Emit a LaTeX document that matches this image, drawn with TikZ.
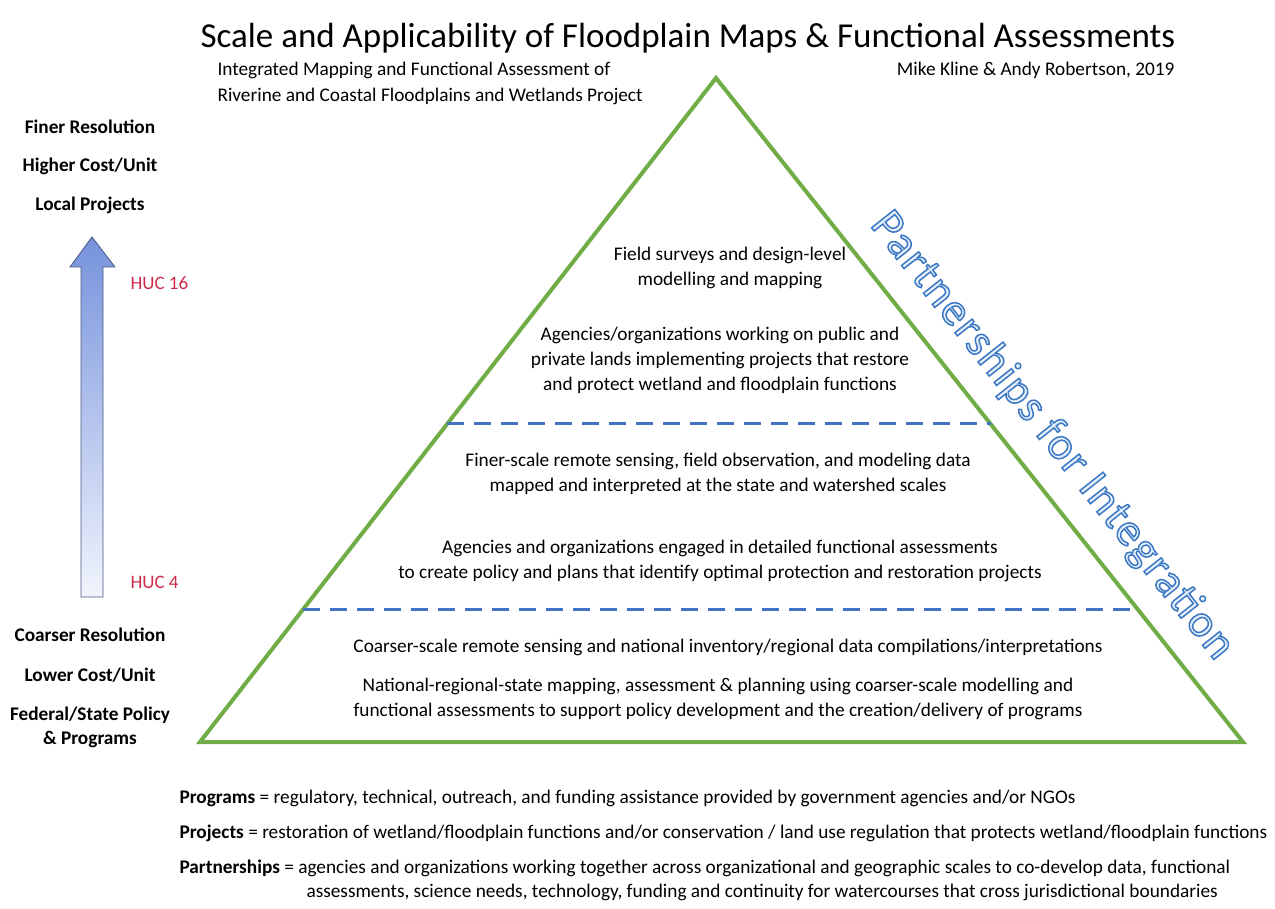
\documentclass[tikz,border=0pt]{standalone}
\usepackage{fontspec}
\setmainfont{Carlito}
\usepackage{tikz}
\usetikzlibrary{arrows.meta, positioning, calc}
\definecolor{pyrgreen}{RGB}{112,173,71}
\definecolor{dashblue}{RGB}{68,114,196}
\definecolor{hucred}{RGB}{205,45,75}
\definecolor{partblue}{RGB}{60,120,195}
\definecolor{arrowtop}{RGB}{118,146,220}
\definecolor{arrowbot}{RGB}{240,244,252}
\newcommand{\hollow}[1]{\special{pdf:literal direct 0.9 0.94 0.99 rg 2 Tr 1.5 w}#1\special{pdf:literal direct 0 Tr 0.4 w}}

\begin{document}
\begin{tikzpicture}[x=1pt, y=1pt,
  side/.style={font=\fontsize{19.3}{24}\selectfont\bfseries, align=center},
  body/.style={font=\fontsize{19.3}{25}\selectfont, align=center},
  huc/.style={font=\fontsize{19}{22}\selectfont, text=hucred, anchor=west},
  defn/.style={font=\fontsize{19.3}{24}\selectfont, anchor=west, align=left},
  layerline/.style={dashblue, line width=3pt, dash pattern=on 17pt off 10pt}
]
\useasboundingbox (0,0) rectangle (1275,-909);

% heading
\node[font=\fontsize{35}{40}\selectfont] (title) at (688,-38) {Scale and Applicability of Floodplain Maps \& Functional Assessments};
\node[font=\fontsize{19.3}{26}\selectfont, anchor=west, align=left] (project) at (214,-83) {Integrated Mapping and Functional Assessment of\\Riverine and Coastal Floodplains and Wetlands Project};
\node[font=\fontsize{19.3}{24}\selectfont, anchor=east] (authors) at (1178,-70) {Mike Kline \& Andy Robertson, 2019};

% pyramid
\coordinate (top) at (716,-78);
\coordinate (bl) at (200,-742);
\coordinate (br) at (1243,-742);
\draw[pyrgreen, line width=4pt, line join=miter] (top) -- (bl) -- (br) -- cycle;
\draw[layerline] ($(top)!0.521!(bl)$) -- ($(top)!0.521!(br)$);
\draw[layerline] ($(top)!0.801!(bl)$) -- ($(top)!0.801!(br)$);

\node[body] (field) at (730,-268) {Field surveys and design-level\\modelling and mapping};
\node[body] (local) at (720,-360) {Agencies/organizations working on public and\\private lands implementing projects that restore\\and protect wetland and floodplain functions};
\node[body] (finer) at (718,-474) {Finer-scale remote sensing, field observation, and modeling data\\mapped and interpreted at the state and watershed scales};
\node[body] (state) at (720,-561) {Agencies and organizations engaged in detailed functional assessments\\to create policy and plans that identify optimal protection and restoration projects};
\node[body] (coarser) at (728,-647) {Coarser-scale remote sensing and national inventory/regional data compilations/interpretations};
\node[body] (national) at (718,-699) {National-regional-state mapping, assessment \& planning using coarser-scale modelling and\\functional assessments to support policy development and the creation/delivery of programs};

% left scale
\node[side] (res1) at (90,-127) {Finer Resolution};
\node[side] (cost1) at (90,-166) {Higher Cost/Unit};
\node[side] (proj1) at (90,-205) {Local Projects};
\shade[top color=arrowtop, bottom color=arrowbot, draw=arrowtop!60!black, line width=0.8pt]
  (81,-597) -- (81,-267) -- (70,-267) -- (92,-237) -- (115,-267) -- (103,-267) -- (103,-597) -- cycle;
\node[huc] (huc16) at (127,-283) {HUC 16};
\node[huc] (huc4) at (127,-582) {HUC 4};
\node[side] (res2) at (90,-635) {Coarser Resolution};
\node[side] (cost2) at (90,-675) {Lower Cost/Unit};
\node[side] (prog2) at (90,-727) {Federal/State Policy\\\& Programs};

% definitions
\node[defn] (programs) at (176,-798) {\textbf{Programs} = regulatory, technical, outreach, and funding assistance provided by government agencies and/or NGOs};
\node[defn] (projects) at (176,-833) {\textbf{Projects} = restoration of wetland/floodplain functions and/or conservation / land use regulation that protects wetland/floodplain functions};
\node[defn, anchor=north west] (partners) at (176,-856) {\textbf{Partnerships} = agencies and organizations working together across organizational and geographic scales to co-develop data, functional\\\hspace*{127pt}assessments, science needs, technology, funding and continuity for watercourses that cross jurisdictional boundaries};

% side banner
\node[font=\fontsize{46}{50}\selectfont\addfontfeatures{LetterSpace=4}, text=partblue, rotate=-51.6] (partner) at (1052,-436) {\hollow{Partnerships for Integration}};

\end{tikzpicture}
\end{document}
